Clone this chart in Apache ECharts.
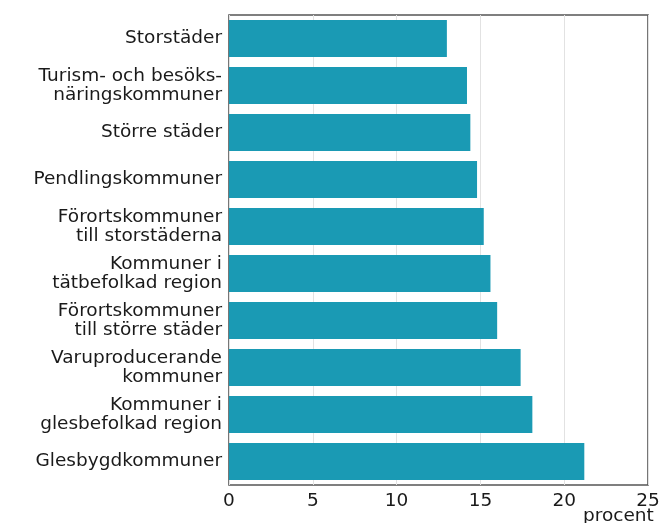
<!DOCTYPE html>
<html>
<head>
<meta charset="utf-8">
<script src="https://cdn.jsdelivr.net/npm/echarts@6/dist/echarts.min.js"></script>
<style>
  html, body { margin: 0; padding: 0; background: #fff; }
  #chart { width: 664px; height: 523px; }
</style>
</head>
<body>
<div id="chart"></div>
<script>
// Kommungrupper, uppifrån och ned
const categories = [
  'Storstäder',
  'Turism- och besöks-\nnäringskommuner',
  'Större städer',
  'Pendlingskommuner',
  'Förortskommuner\ntill storstäderna',
  'Kommuner i\ntätbefolkad region',
  'Förortskommuner\ntill större städer',
  'Varuproducerande\nkommuner',
  'Kommuner i\nglesbefolkad region',
  'Glesbygdkommuner'
];

// Andel, procent
const values = [13.0, 14.2, 14.4, 14.8, 15.2, 15.6, 16.0, 17.4, 18.1, 21.2];

const xTicks = [0, 5, 10, 15, 20, 25];
const unitLabel = 'procent';

const font = '"DejaVu Sans", Verdana, sans-serif';

const chart = echarts.init(document.getElementById('chart'), null, { renderer: 'canvas' });

chart.setOption({
  animation: false,
  grid: {
    left: 229,
    right: 16,
    top: 15,
    bottom: 38,
    show: true,
    borderColor: '#555555',
    borderWidth: 1.6,
    containLabel: false
  },
  xAxis: {
    type: 'value',
    min: xTicks[0],
    max: xTicks[xTicks.length - 1],
    interval: 5,
    axisLine: { show: false },
    axisTick: { show: false },
    axisLabel: {
      color: '#1a1a1a',
      fontFamily: font,
      fontSize: 18.5,
      margin: 7
    },
    splitLine: { show: true, lineStyle: { color: '#e2e2e2', width: 1 } }
  },
  yAxis: {
    type: 'category',
    data: categories,
    inverse: true,
    axisLine: { show: false },
    axisTick: { show: false },
    axisLabel: {
      color: '#1a1a1a',
      fontFamily: font,
      fontSize: 18.5,
      lineHeight: 19.5,
      margin: 7,
      align: 'right'
    },
    splitLine: { show: false }
  },
  series: [{
    type: 'bar',
    data: values,
    barCategoryGap: '21%',
    itemStyle: { color: '#1a9ab4' }
  }],
  graphic: [{
    type: 'text',
    left: 583,
    top: 507,
    style: {
      text: unitLabel,
      fill: '#1a1a1a',
      font: '18.5px ' + font
    }
  }]
});
</script>
</body>
</html>
